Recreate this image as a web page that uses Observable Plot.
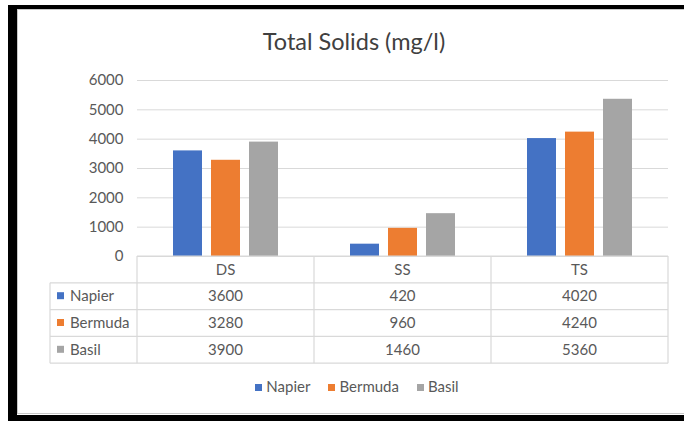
<!DOCTYPE html>
<html><head><meta charset="utf-8">
<script src="https://cdn.jsdelivr.net/npm/d3@7"></script>
<script src="https://cdn.jsdelivr.net/npm/@observablehq/plot@0.6"></script>
<style>
body{margin:0;background:#fff;}
#wrap{position:relative;width:684px;height:421px;overflow:hidden;font-family:Lato,sans-serif;color:#595959;background:#fff;}
#wrap svg{position:absolute;left:0;top:0;}
.blk{position:absolute;background:#000;}
.gry{position:absolute;background:#c8c8c8;}
#legend{position:absolute;left:0;width:714px;top:377px;text-align:center;font-size:15px;}
#legend span.item{margin:0 9px;}
#legend span.sw{display:inline-block;width:7px;height:7px;margin-right:4px;vertical-align:1px;}
</style></head><body><div id="wrap"></div>
<script>
const categories = ["DS", "SS", "TS"];
const seriesNames = ["Napier", "Bermuda", "Basil"];
const napier = [3600, 420, 4020];
const bermuda = [3280, 960, 4240];
const basil = [3900, 1460, 5360];
const colors = ["#4472C4", "#ED7D31", "#A5A5A5"];
const yTicks = [0, 1000, 2000, 3000, 4000, 5000, 6000];
const titleText = "Total Solids (mg/l)";

const seriesValues = [napier, bermuda, basil];
const data = seriesNames.flatMap((s, i) => categories.map((c, j) => ({series: s, cat: c, value: seriesValues[i][j]})));

const wrap = document.getElementById("wrap");

const chart = Plot.plot({
  width: 684, height: 421,
  marginTop: 80, marginBottom: 165, marginLeft: 137, marginRight: 16,
  style: {fontFamily: "Lato, sans-serif", fontSize: "15px", color: "#595959", background: "transparent"},
  fx: {domain: categories, padding: 0, axis: null},
  x: {domain: seriesNames, paddingInner: 0.23, paddingOuter: 0.885, axis: null},
  y: {domain: [0, 6000], ticks: yTicks, tickSize: 0, tickPadding: 14, tickFormat: d => String(d), label: null},
  color: {domain: seriesNames, range: colors},
  marks: [
    Plot.gridY(yTicks, {stroke: "#d9d9d9", strokeOpacity: 1}),
    Plot.barY(data, {fx: "cat", x: "series", y: "value", fill: "series"})
  ]
});

// borders
[[8,5,676,4,"blk"],[8,5,9,416,"blk"],[8,415,676,6,"blk"],[17,9,667,1,"gry"],[17,9,1,405,"gry"],[17,413,667,1,"gry"]]
  .forEach(([l,t,w,h,c]) => { const d = document.createElement("div"); d.className = c; Object.assign(d.style,{left:l+"px",top:t+"px",width:w+"px",height:h+"px"}); wrap.appendChild(d); });

wrap.appendChild(chart);

const svg = d3.select(chart);

// title
svg.append("text").attr("x", 354).attr("y", 50).attr("text-anchor", "middle")
  .attr("font-family", "Lato, sans-serif").attr("font-size", 23.5).attr("fill", "#404040").text(titleText);

// legend
const lg = document.createElement("div"); lg.id = "legend";
seriesNames.forEach((s, i) => {
  const it = document.createElement("span"); it.className = "item";
  it.innerHTML = `<span class="sw" style="background:${colors[i]}"></span>${s}`;
  lg.appendChild(it);
});
wrap.appendChild(lg);

// data table, positioned from the chart's own scales
const fx = chart.scale("fx");
const ys = chart.scale("y");
const base = ys.apply(0);
const rowH = 26.8;
const labelLeft = 50;
const colStarts = categories.map(c => fx.apply(c));
const bw = fx.bandwidth;
const right = colStarts[colStarts.length - 1] + bw;
const left = colStarts[0];
const g = svg.append("g").attr("stroke", "#d9d9d9").attr("stroke-width", 1.2);
g.append("line").attr("x1", left).attr("x2", right).attr("y1", base).attr("y2", base);
for (let r = 1; r <= seriesNames.length + 1; r++) {
  const y = base + r * rowH;
  g.append("line").attr("x1", labelLeft).attr("x2", right).attr("y1", y).attr("y2", y);
}
const bottom = base + (seriesNames.length + 1) * rowH;
g.append("line").attr("x1", labelLeft).attr("x2", labelLeft).attr("y1", base + rowH).attr("y2", bottom);
colStarts.concat([right]).forEach(x => g.append("line").attr("x1", x).attr("x2", x).attr("y1", base).attr("y2", bottom));

const tg = svg.append("g").attr("fill", "#595959").attr("font-family", "Lato, sans-serif").attr("font-size", 15).attr("text-anchor", "middle");
categories.forEach((c, j) => {
  tg.append("text").attr("x", colStarts[j] + bw / 2).attr("y", base + rowH / 2).attr("dy", "0.35em").text(c);
  seriesNames.forEach((s, i) => {
    tg.append("text").attr("x", colStarts[j] + bw / 2).attr("y", base + (i + 1.5) * rowH).attr("dy", "0.35em").text(seriesValues[i][j]);
  });
});
seriesNames.forEach((s, i) => {
  const cy = base + (i + 1.5) * rowH;
  svg.append("rect").attr("x", 57).attr("y", cy - 4).attr("width", 7).attr("height", 7).attr("fill", colors[i]);
  tg.append("text").attr("x", 70).attr("y", cy).attr("dy", "0.35em").attr("text-anchor", "start").text(s);
});
</script>
</body></html>
